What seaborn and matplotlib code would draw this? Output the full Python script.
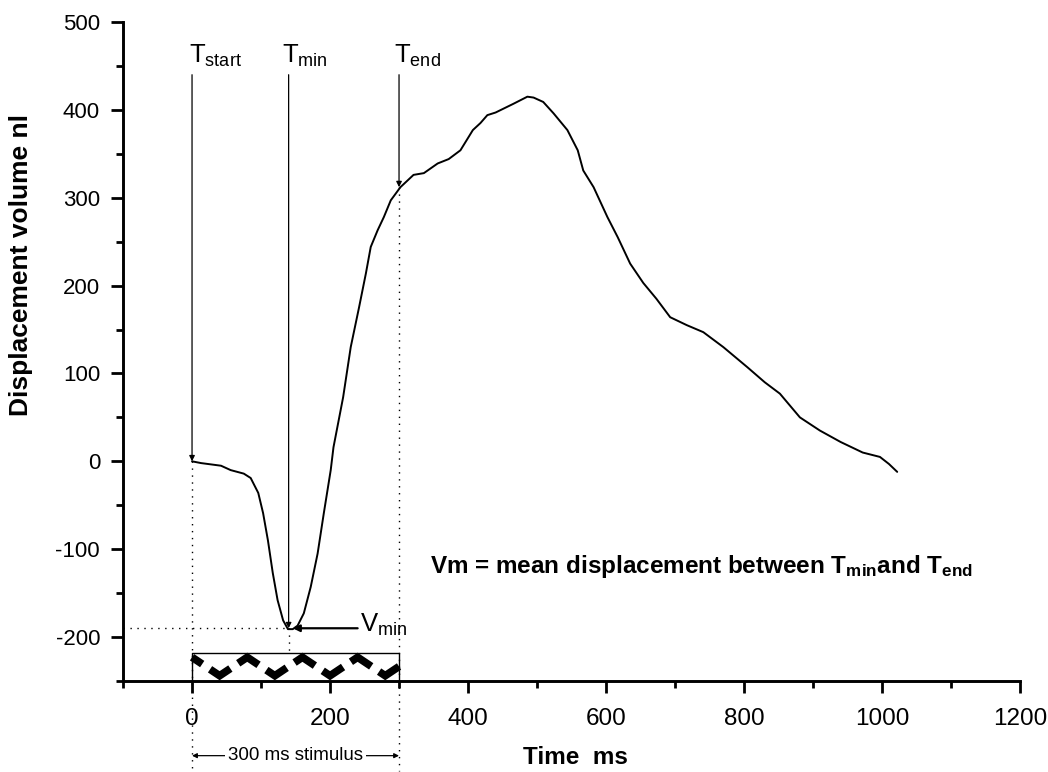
import matplotlib
matplotlib.use("Agg")
import matplotlib.pyplot as plt
import numpy as np
import pandas as pd
import seaborn as sns

# displacement trace
time_ms = [0, 13, 42, 56, 75, 85, 96, 103, 110, 117, 124, 132, 139, 146, 153, 162,
           172, 182, 191, 201, 205, 219, 230, 242, 252, 259, 269, 278, 288, 302,
           321, 336, 356, 372, 389, 407, 418, 428, 440, 466, 486, 495, 509, 524,
           544, 559, 567, 582, 602, 617, 635, 654, 673, 693, 717, 741, 770, 805,
           830, 852, 881, 910, 940, 972, 997, 1010, 1022]
volume_nl = [0, -2, -5, -10, -14, -19, -36, -59, -90, -127, -158, -181, -191, -191,
             -187, -173, -143, -105, -59, -10, 16, 73, 130, 175, 214, 244, 263, 278,
             297, 312, 326, 328, 339, 344, 354, 377, 385, 394, 397, 407, 415, 414,
             409, 396, 377, 354, 331, 312, 278, 255, 225, 203, 185, 164, 155, 147,
             130, 107, 90, 77, 50, 35, 22, 10, 5, -3, -12]

t_start, t_min, t_end = 0, 140, 300
v_min = -190
v_end = 312
stim_period = 80
x_ticks = [0, 200, 400, 600, 800, 1000, 1200]
y_ticks = [-200, -100, 0, 100, 200, 300, 400, 500]

sns.set_theme(style="ticks")
plt.rcParams["font.family"] = ["Liberation Sans", "DejaVu Sans"]
plt.rcParams["mathtext.fontset"] = "custom"
plt.rcParams["mathtext.rm"] = "Liberation Sans"
plt.rcParams["mathtext.it"] = "Liberation Sans"
plt.rcParams["mathtext.bf"] = "Liberation Sans:bold"
plt.rcParams["lines.scale_dashes"] = False
plt.rcParams["axes.unicode_minus"] = False
plt.rcParams["text.color"] = "black"
plt.rcParams["axes.labelcolor"] = "black"
plt.rcParams["axes.edgecolor"] = "black"
plt.rcParams["xtick.color"] = "black"
plt.rcParams["ytick.color"] = "black"

fig = plt.figure(figsize=(10.48, 7.72), dpi=100)
ax = fig.add_axes([0.1174, 0.1179, 0.9733 - 0.1174, 0.9715 - 0.1179])

df = pd.DataFrame({"t": time_ms, "v": volume_nl})
sns.lineplot(data=df, x="t", y="v", ax=ax, color="black", linewidth=1.4)

ax.set_xlim(-100, 1200)
ax.set_ylim(-250, 500)
ax.set_xticks(x_ticks)
ax.set_yticks(y_ticks)
ax.set_xticks(np.arange(-100, 1201, 100), minor=True)
ax.set_yticks(np.arange(-250, 501, 50), minor=True)
ax.tick_params(which="major", direction="out", length=8.5, width=2)
ax.tick_params(which="minor", direction="out", length=5, width=2)
ax.tick_params(axis="x", which="major", labelsize=17.5, pad=11)
ax.tick_params(axis="y", which="major", labelsize=16, pad=8)
for s in ["top", "right"]:
    ax.spines[s].set_visible(False)
for s in ["left", "bottom"]:
    ax.spines[s].set_linewidth(2.1)

ax.set_xlabel("Time  ms", fontsize=17.5, fontweight="bold", va="top")
ax.xaxis.set_label_coords(0.504, -0.099)
ax.set_ylabel("Displacement volume nl", fontsize=19, fontweight="bold")
ax.yaxis.set_label_coords(-0.100, 0.631)

# stimulus box with zigzag
box_top, box_bot = -218, -250
ax.plot([t_start, t_start, t_end, t_end], [box_bot, box_top, box_top, box_bot],
        color="black", lw=1.0)
zx = np.arange(t_start, t_end + 1, stim_period / 2)
zy = np.where((np.arange(len(zx)) % 2) == 0, -223, -244)
if zx[-1] < t_end:
    zx = np.append(zx, t_end)
    zy = np.append(zy, -233.5)
ax.plot(zx, zy, color="black", lw=5.5, dash_capstyle="butt", dash_joinstyle="miter",
        linestyle=(8.8, (17.6, 6.8)))

# dotted guide lines
dot = (0, (1, 4))
ax.plot([t_start, t_start], [0, -352], color="black", lw=1, ls=dot, clip_on=False)
ax.plot([t_end, t_end], [v_end, -352], color="black", lw=1, ls=dot, clip_on=False)
ax.plot([t_min, t_min], [v_min, box_top], color="black", lw=1, ls=dot)
ax.plot([-100, t_min], [v_min, v_min], color="black", lw=1, ls=dot)

# T markers
arrow = dict(arrowstyle="-|>", lw=0.9, color="black", mutation_scale=8, shrinkA=0, shrinkB=0)
for x0, y0, lab, dx in [(t_start, 0, "start", -5), (t_min, v_min, "min", -9),
                        (t_end, v_end, "end", -7)]:
    ax.annotate("", xy=(x0, y0), xytext=(x0, 440), arrowprops=arrow)
    ax.text(x0 + dx, 453, r"$\mathregular{T_{%s}}$" % lab, fontsize=18.5,
            ha="left", va="baseline")

ax.annotate("", xy=(t_min + 6, v_min), xytext=(t_min + 100, v_min),
            arrowprops=dict(arrowstyle="-|>", lw=1.6, color="black",
                            mutation_scale=10, shrinkA=0, shrinkB=0))
ax.text(t_min + 104, v_min - 4, r"$\mathregular{V_{min}}$", fontsize=18.5,
        ha="left", va="baseline")

ax.text(345, -127, r"Vm = mean displacement between $\mathbf{T_{min}}$and $\mathbf{T_{end}}$",
        fontsize=17.5, fontweight="bold", ha="left", va="baseline")

# stimulus duration label
ax.annotate("", xy=(t_start, -335), xytext=(t_end, -335),
            arrowprops=dict(arrowstyle="<|-|>", lw=0.9, color="black",
                            mutation_scale=7, shrinkA=0, shrinkB=0),
            annotation_clip=False)
ax.text((t_start + t_end) / 2, -335, "300 ms stimulus", fontsize=13.5, ha="center",
        va="center", bbox=dict(facecolor="white", edgecolor="none", pad=2),
        clip_on=False)

fig.savefig("out.png", dpi=100)
